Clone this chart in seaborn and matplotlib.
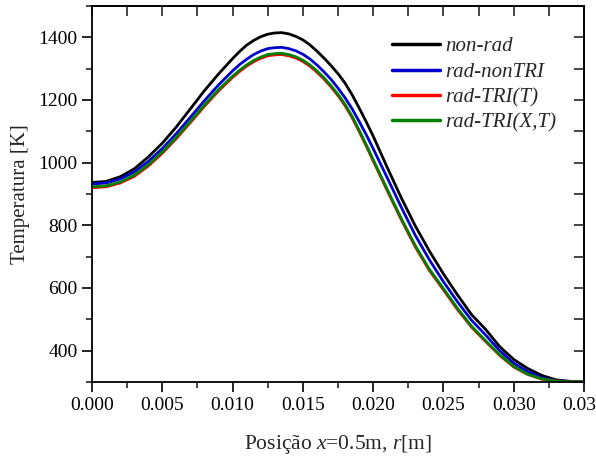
import numpy as np
import pandas as pd
import matplotlib
matplotlib.use('Agg')
import matplotlib.pyplot as plt
import seaborn as sns
from matplotlib.ticker import MultipleLocator, FormatStrFormatter

# Posição radial r [m]
posicao = [0.000, 0.001, 0.002, 0.003, 0.004, 0.005, 0.006, 0.007, 0.008, 0.009,
           0.010, 0.0105, 0.011, 0.0115, 0.012, 0.0125, 0.013, 0.0135, 0.014,
           0.0145, 0.015, 0.0155, 0.016, 0.0165, 0.017, 0.0175, 0.018, 0.0185,
           0.019, 0.0195, 0.020, 0.021, 0.022, 0.023, 0.024, 0.025, 0.026, 0.027,
           0.028, 0.029, 0.030, 0.031, 0.032, 0.033, 0.034, 0.035]

# Temperatura [K] por modelo
t_non_rad = [937, 940, 955, 980, 1018, 1062, 1114, 1172, 1230, 1283,
             1332, 1355, 1375, 1390, 1402, 1410, 1414, 1415, 1411,
             1403, 1392, 1376, 1356, 1334, 1310, 1284, 1254, 1217,
             1175, 1131, 1085, 985, 888, 798, 718, 645, 578, 515,
             468, 413, 372, 343, 321, 307, 302, 302]
t_rad_nontri = [932, 935, 948, 970, 1004, 1045, 1093, 1145, 1198, 1248,
                1293, 1313, 1330, 1345, 1356, 1364, 1367, 1368, 1364,
                1357, 1346, 1331, 1312, 1290, 1266, 1238, 1207, 1172,
                1132, 1090, 1045, 952, 858, 768, 690, 620, 556, 497,
                450, 400, 360, 333, 314, 304, 302, 302]
t_rad_tri_t = [920, 923, 935, 956, 989, 1030, 1077, 1128, 1180, 1229,
               1272, 1291, 1308, 1322, 1333, 1341, 1344, 1345, 1341,
               1334, 1323, 1308, 1289, 1267, 1242, 1214, 1182, 1144,
               1100, 1054, 1006, 911, 818, 731, 656, 594, 531, 475,
               429, 385, 348, 324, 309, 303, 301, 301]
t_rad_tri_xt = [923, 926, 938, 960, 993, 1034, 1081, 1132, 1184, 1233,
                1276, 1295, 1312, 1326, 1337, 1345, 1348, 1349, 1345,
                1338, 1327, 1312, 1293, 1271, 1246, 1218, 1186, 1148,
                1104, 1058, 1010, 915, 822, 735, 660, 598, 535, 478,
                432, 387, 350, 325, 310, 303, 301, 301]

modelos = ['non-rad', 'rad-nonTRI', 'rad-TRI(T)', 'rad-TRI(X,T)']
cores = ['#000000', '#0000cc', '#ff0000', '#008000']

df = pd.DataFrame({
    'r': posicao * 4,
    'T': t_non_rad + t_rad_nontri + t_rad_tri_t + t_rad_tri_xt,
    'modelo': [m for m in modelos for _ in posicao],
})

sns.set_style("ticks")
plt.rcParams['font.family'] = ['Liberation Serif', 'DejaVu Serif']
plt.rcParams['mathtext.fontset'] = 'custom'
plt.rcParams['mathtext.rm'] = 'Liberation Serif'
plt.rcParams['mathtext.it'] = 'Liberation Serif:italic'

fig, ax = plt.subplots(figsize=(5.96, 4.59), dpi=100)
fig.subplots_adjust(left=92/596, right=584/596, top=1-6/459, bottom=1-382/459)

sns.lineplot(data=df, x='r', y='T', hue='modelo', hue_order=modelos,
             palette=cores, linewidth=2.0, ax=ax, legend=True)

ax.set_xlim(0, 0.035)
ax.set_ylim(300, 1500)
ax.xaxis.set_major_locator(MultipleLocator(0.005))
ax.xaxis.set_minor_locator(MultipleLocator(0.0025))
ax.xaxis.set_major_formatter(FormatStrFormatter('%.3f'))
ax.yaxis.set_major_locator(MultipleLocator(200))
ax.yaxis.set_minor_locator(MultipleLocator(100))
ax.tick_params(which='major', direction='out', length=7, width=1.2, labelsize=14, colors='black')
ax.tick_params(which='minor', direction='out', length=4, width=1.2)

for s in ax.spines.values():
    s.set_visible(True)
    s.set_linewidth(1.3)
    s.set_color('black')

# ticks espelhados (para dentro) no topo e à direita
top = ax.secondary_xaxis('top')
top.xaxis.set_major_locator(MultipleLocator(0.0025))
top.tick_params(direction='in', length=7, width=1.2, labeltop=False)
top.spines['top'].set_linewidth(1.3)
right = ax.secondary_yaxis('right')
right.yaxis.set_major_locator(MultipleLocator(100))
right.tick_params(direction='in', length=7, width=1.2, labelright=False)
right.spines['right'].set_linewidth(1.3)

ax.set_xlabel('Posição $x$=0.5m, $r$[m]', fontsize=15.5, labelpad=14)
ax.set_ylabel('Temperatura [K]', fontsize=15, labelpad=6)

leg = ax.legend(loc='upper left', bbox_to_anchor=(0.61, 0.918), frameon=False,
                fontsize=15, handlelength=2.3, handletextpad=0.25,
                labelspacing=0.28, borderaxespad=0, borderpad=0)
for t in leg.get_texts():
    t.set_fontstyle('italic')
for l in leg.get_lines():
    l.set_linewidth(2.5)

plt.savefig('out.png', dpi=100)
